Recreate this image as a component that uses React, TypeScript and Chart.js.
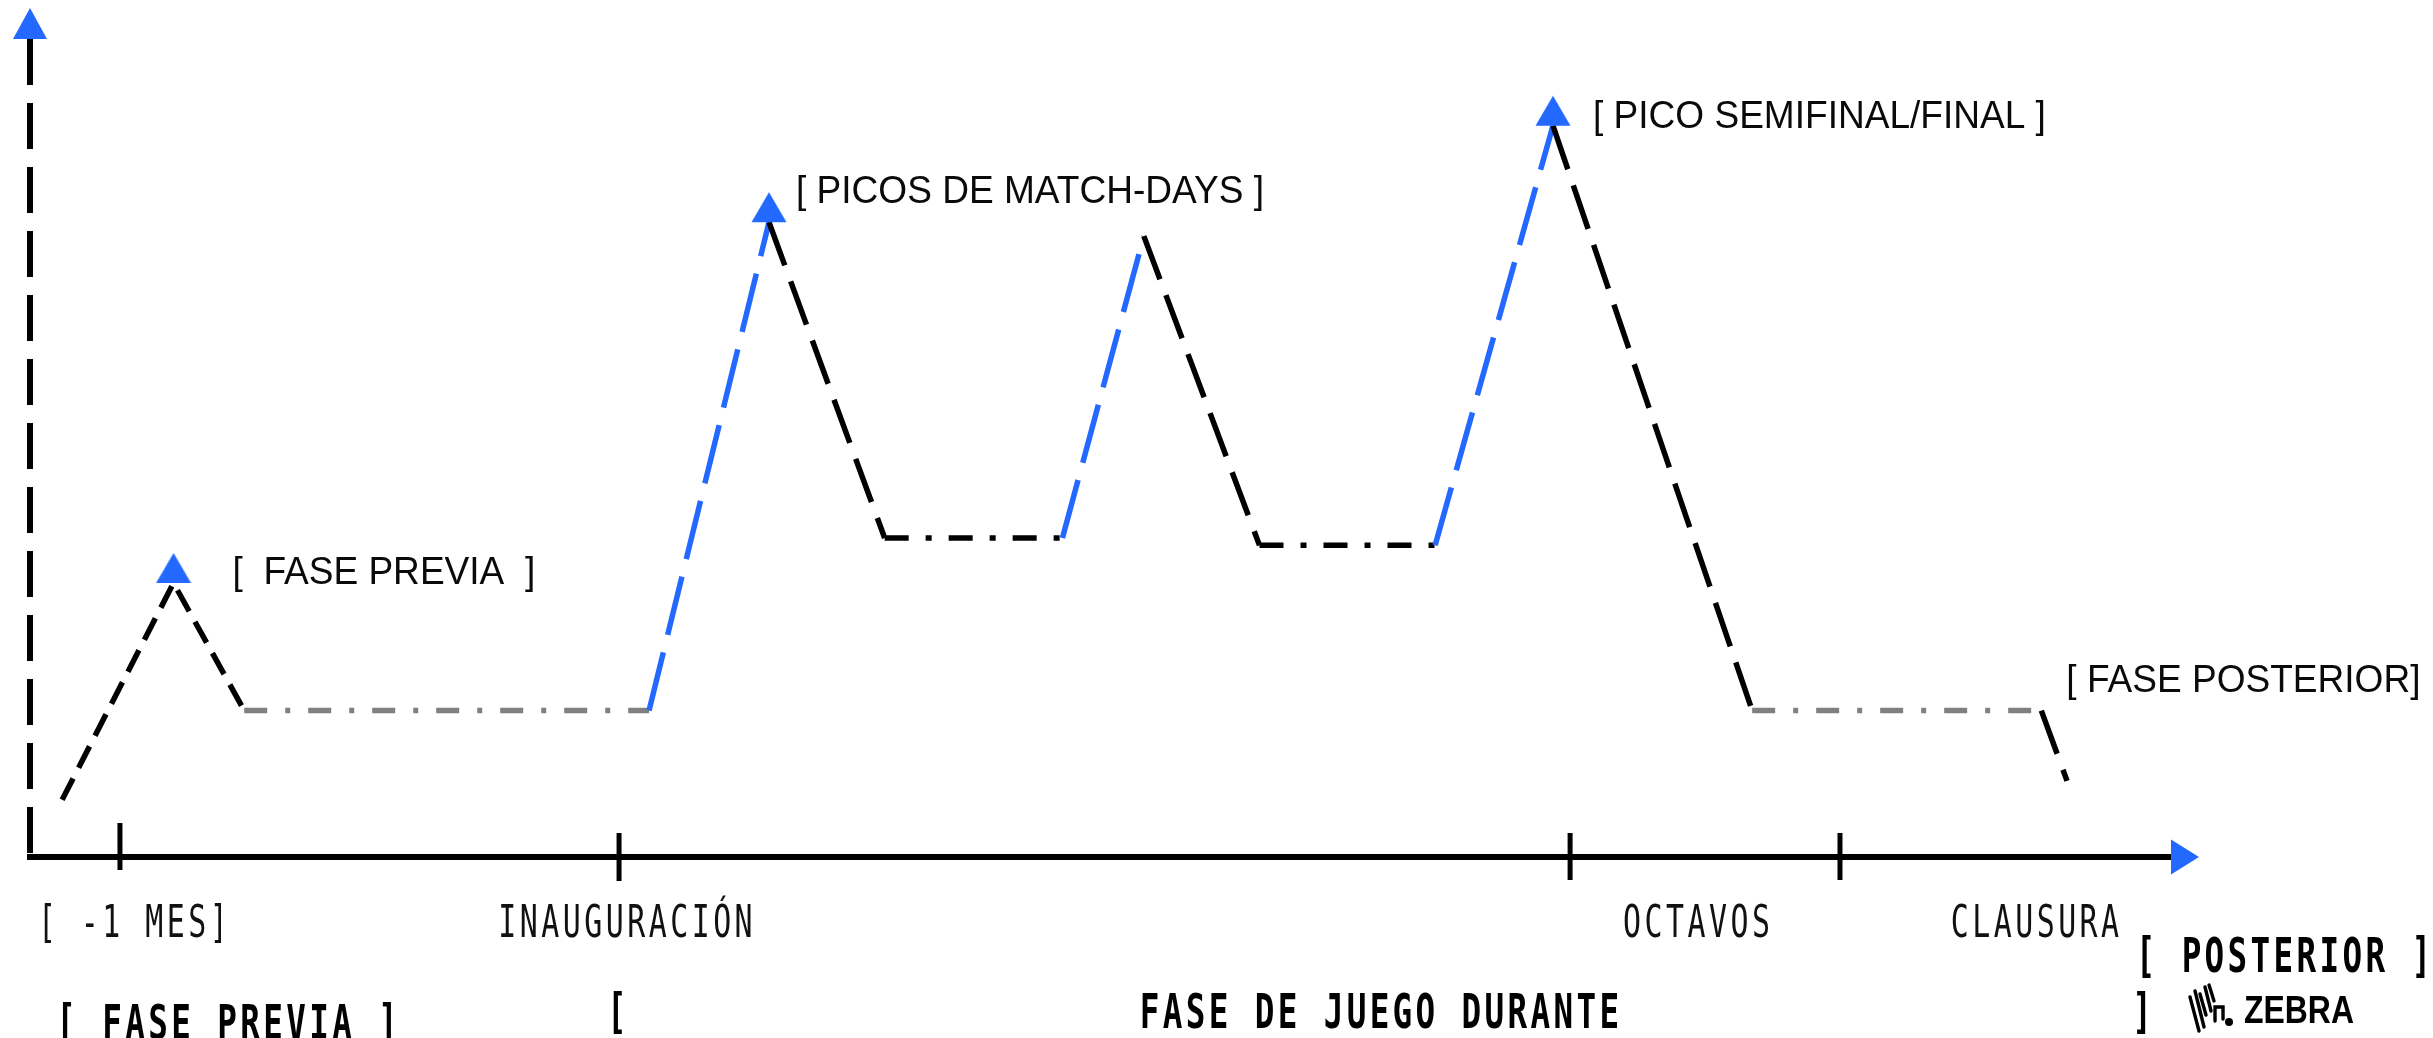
import { useEffect, useRef } from 'react';
import { Chart, registerables } from 'chart.js';

Chart.register(...registerables);

// Timeline position (0 = origin of the axis, 100 = end of the axis line)
const TIMELINE_X = [1.5, 6.7, 10.0, 28.9, 34.5, 39.9, 48.2, 52.0, 57.4, 65.6, 71.1, 80.4, 93.9, 95.1];
// Relative intensity (0 = axis, 100 = top of the vertical axis)
const INTENSITY_Y = [7.0, 33.5, 17.9, 17.9, 77.6, 39.0, 39.0, 75.9, 38.1, 38.1, 89.4, 17.9, 17.9, 9.3];
// Style of each segment (segment i joins point i and i+1)
const SEGMENT_KIND = ['pre', 'pre', 'gray', 'blue', 'black', 'blackDot', 'blue', 'black', 'blackDot', 'blue', 'black', 'gray', 'black'];
const PEAK_INDEX = [1, 4, 10];
const ANNOTATION_INDEX = [1, 4, 10, 12];
const ANNOTATION_TEXT = ['[  FASE PREVIA  ]', '[ PICOS DE MATCH-DAYS ]', '[ PICO SEMIFINAL/FINAL ]', '[ FASE POSTERIOR]'];
const TICK_X = [4.2, 27.5, 71.9, 84.5];
const TICK_LABELS = ['[ -1 MES]', 'INAUGURACIÓN', 'OCTAVOS', 'CLAUSURA'];
const TICK_LABEL_X = [4.8, 27.8, 77.8, 93.6];
const PHASE_TEXT = ['[ FASE PREVIA ]', '[', 'FASE DE JUEGO DURANTE', ']', '[ POSTERIOR ]'];
const PHASE_X = [9.2, 27.4, 63.0, 98.6, 105.2];

// ---- styles / layout ----
const BLUE = '#2369ff';
const GRAY = '#808080';
const ANNOT_OFFSET = [[59, -13], [27, -33], [40, -12], [25, -33]];
const TICK_EXTENT = [[34, 13], [24, 24], [24, 23], [24, 23]];
const PHASE_DY = [165, 154, 154, 154, 98];
const MONO = '"DejaVu Sans Mono", "Liberation Mono", monospace';
const SANS = '"Liberation Sans", Arial, sans-serif';

function segColor(kind: string) {
  if (kind === 'blue') return BLUE;
  if (kind === 'gray') return GRAY;
  return '#000';
}
function segDash(kind: string) {
  switch (kind) {
    case 'pre': return [24, 12];
    case 'blue': return [60, 18];
    case 'black': return [46, 17];
    case 'gray': return [23, 18, 5, 18];
    case 'blackDot': return [24, 17, 6, 17];
    default: return [];
  }
}

type TextOpts = { size: number; family: string; weight?: string; sx: number; ls?: number; align: 'left' | 'center' | 'right'; color?: string; cap: number };
function drawText(ctx: CanvasRenderingContext2D, text: string, x: number, cy: number, o: TextOpts) {
  ctx.save();
  ctx.font = `${o.weight || 'normal'} ${o.size}px ${o.family}`;
  (ctx as any).letterSpacing = `${o.ls || 0}px`;
  ctx.fillStyle = o.color || '#000';
  ctx.textBaseline = 'alphabetic';
  ctx.textAlign = 'left';
  ctx.translate(x, cy + (o.cap * o.size) / 2);
  ctx.scale(o.sx, 1);
  const w = ctx.measureText(text).width - (o.ls || 0);
  let dx = 0;
  if (o.align === 'center') dx = -w / 2;
  else if (o.align === 'right') dx = -w;
  ctx.fillText(text, dx, 0);
  ctx.restore();
}

function drawZebraIcon(ctx: CanvasRenderingContext2D, x: number, y: number) {
  ctx.save();
  ctx.strokeStyle = '#000';
  ctx.fillStyle = '#000';
  ctx.lineWidth = 3.4;
  ctx.lineCap = 'round';
  const stripes = [[3, 12, 12, 46], [8, 6, 17, 42], [13, 9, 19, 30], [18, 2, 24, 26], [22, 0, 27, 16]];
  stripes.forEach(([x1, y1, x2, y2]) => {
    ctx.beginPath();
    ctx.moveTo(x + x1, y + y1);
    ctx.lineTo(x + x2, y + y2);
    ctx.stroke();
  });
  ctx.beginPath();
  ctx.moveTo(x + 28, y + 36);
  ctx.lineTo(x + 28, y + 22);
  ctx.lineTo(x + 36, y + 22);
  ctx.lineTo(x + 36, y + 34);
  ctx.stroke();
  ctx.beginPath();
  ctx.arc(x + 42, y + 37, 4, 0, Math.PI * 2);
  ctx.fill();
  ctx.restore();
}

function makeMarker() {
  const c = document.createElement('canvas');
  c.width = 36;
  c.height = 64;
  const g = c.getContext('2d')!;
  g.fillStyle = BLUE;
  g.beginPath();
  g.moveTo(18, 2);
  g.lineTo(35.5, 32);
  g.lineTo(0.5, 32);
  g.closePath();
  g.fill();
  return c;
}

const overlayPlugin = {
  id: 'overlay',
  beforeDatasetsDraw(chart: any) {
    const { ctx, chartArea: a } = chart;
    const x = chart.scales.x;
    ctx.save();
    // dashed vertical axis
    ctx.strokeStyle = '#000';
    ctx.lineWidth = 6;
    ctx.lineCap = 'butt';
    ctx.setLineDash([46, 18]);
    ctx.beginPath();
    ctx.moveTo(a.left, a.top);
    ctx.lineTo(a.left, a.bottom - 3);
    ctx.stroke();
    ctx.setLineDash([]);
    // tick marks
    ctx.lineWidth = 5;
    TICK_X.forEach((v, i) => {
      const px = x.getPixelForValue(v);
      ctx.beginPath();
      ctx.moveTo(px, a.bottom - TICK_EXTENT[i][0]);
      ctx.lineTo(px, a.bottom + TICK_EXTENT[i][1]);
      ctx.stroke();
    });
    // arrows
    ctx.fillStyle = BLUE;
    ctx.beginPath();
    ctx.moveTo(a.left, a.top - 31);
    ctx.lineTo(a.left + 17, a.top);
    ctx.lineTo(a.left - 17, a.top);
    ctx.closePath();
    ctx.fill();
    ctx.beginPath();
    ctx.moveTo(a.right + 27, a.bottom);
    ctx.lineTo(a.right - 1, a.bottom - 17.5);
    ctx.lineTo(a.right - 1, a.bottom + 17.5);
    ctx.closePath();
    ctx.fill();
    ctx.restore();
  },
  afterDraw(chart: any) {
    const { ctx, chartArea: a } = chart;
    const x = chart.scales.x;
    const y = chart.scales.y;
    // annotations
    ANNOTATION_INDEX.forEach((idx, i) => {
      const px = x.getPixelForValue(TIMELINE_X[idx]) + ANNOT_OFFSET[i][0];
      const py = y.getPixelForValue(INTENSITY_Y[idx]) + ANNOT_OFFSET[i][1];
      drawText(ctx, ANNOTATION_TEXT[i], px, py, { size: 39, family: SANS, sx: 0.95, align: 'left', cap: 0.716, color: '#0a0a0a' });
    });
    // tick labels
    TICK_LABELS.forEach((t, i) => {
      drawText(ctx, t, x.getPixelForValue(TICK_LABEL_X[i]), a.bottom + 64, { size: 44, family: MONO, sx: 0.68, ls: 5.1, align: 'center', cap: 0.729, color: '#111' });
    });
    // phase labels
    PHASE_TEXT.forEach((t, i) => {
      drawText(ctx, t, x.getPixelForValue(PHASE_X[i]), a.bottom + PHASE_DY[i], { size: 48, family: MONO, weight: 'bold', sx: 0.68, ls: 4.9, align: 'center', cap: 0.729, color: '#000' });
    });
    // logo
    const lx = x.getPixelForValue(98.6) + 45;
    drawZebraIcon(ctx, lx, a.bottom + 128);
    drawText(ctx, 'ZEBRA', lx + 57, a.bottom + 152, { size: 38, family: SANS, weight: 'bold', sx: 0.84, align: 'left', cap: 0.716, color: '#000' });
  },
};

export default function App() {
  const ref = useRef<HTMLCanvasElement | null>(null);
  useEffect(() => {
    if (!ref.current) return;
    const points = TIMELINE_X.map((v, i) => ({ x: v, y: INTENSITY_Y[i] }));
    const peaks = PEAK_INDEX.map((i) => ({ x: TIMELINE_X[i], y: INTENSITY_Y[i] }));
    const marker = makeMarker();
    const chart = new Chart(ref.current, {
      type: 'line',
      data: {
        datasets: [
          {
            label: 'Picos',
            data: peaks,
            showLine: false,
            pointStyle: marker as any,
            pointRadius: 20,
            pointHoverRadius: 20,
            borderWidth: 0,
          } as any,
          {
            label: 'Intensidad',
            data: points,
            borderColor: '#000',
            borderWidth: 5.5,
            borderCapStyle: 'butt',
            borderJoinStyle: 'miter',
            pointRadius: 0,
            pointHoverRadius: 0,
            tension: 0,
            fill: false,
            segment: {
              borderColor: (c: any) => segColor(SEGMENT_KIND[c.p0DataIndex]),
              borderDash: (c: any) => segDash(SEGMENT_KIND[c.p0DataIndex]),
            },
          } as any,
        ],
      },
      options: {
        animation: false,
        responsive: false,
        devicePixelRatio: 1,
        events: [],
        clip: false as any,
        layout: { padding: { left: 30, right: 261, top: 39, bottom: 181 } },
        plugins: { legend: { display: false }, tooltip: { enabled: false } },
        scales: {
          x: {
            type: 'linear',
            min: 0,
            max: 100,
            grid: { display: false, drawTicks: false },
            ticks: { display: false },
            border: { display: true, color: '#000', width: 6 },
          },
          y: {
            type: 'linear',
            min: 0,
            max: 100,
            grid: { display: false, drawTicks: false },
            ticks: { display: false },
            border: { display: false },
          },
        },
      },
      plugins: [overlayPlugin],
    });
    return () => chart.destroy();
  }, []);
  return (
    <div style={{ position: 'fixed', left: 0, top: 0, width: 2433, height: 1038, background: '#fff', overflow: 'hidden' }}>
      <canvas ref={ref} width={2433} height={1038} style={{ display: 'block', width: 2433, height: 1038 }} />
    </div>
  );
}
